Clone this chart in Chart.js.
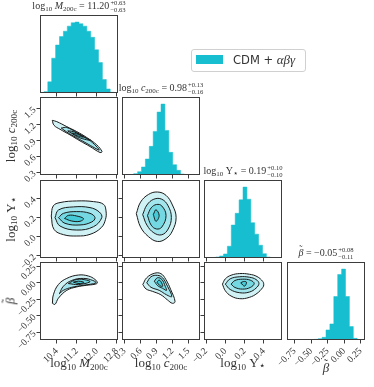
<!DOCTYPE html>
<html><head><meta charset="utf-8">
<script src="https://cdn.jsdelivr.net/npm/chart.js@4.4.1/dist/chart.umd.min.js"></script>
<style>
html,body{margin:0;padding:0;background:#fff;width:374px;height:387px;overflow:hidden;position:relative;
  font-family:'Liberation Serif','DejaVu Serif',serif;color:#333}
canvas{position:absolute}
.tx{position:absolute;white-space:nowrap;text-align:center;line-height:1}
.tt{font-size:10px}
.ax{font-size:13px}
sub{font-size:0.7em;vertical-align:-0.3em;line-height:0}
.ss{display:inline-block;vertical-align:middle;font-size:0.66em;line-height:1.05;text-align:left;margin-left:1px}
.ss span{display:block}
sub.st{font-family:'DejaVu Sans',sans-serif;font-size:0.85em;vertical-align:-0.2em}
.bt{position:relative;display:inline-block;font-style:italic}
.bt .tl{position:absolute;left:0.08em;top:-0.28em;font-style:normal;font-size:0.95em}
.yl{transform:translate(-50%,-50%) rotate(-90deg);}
#legend{position:absolute;left:191px;top:49px;width:113px;height:21px;border:1px solid #d0d0d0;border-radius:3px;background:#fff}
#legend .sw{position:absolute;left:4px;top:4.5px;width:27px;height:9.5px;background:#17becf}
#legend .lt{position:absolute;left:41px;top:2px;font-family:'DejaVu Sans',sans-serif;font-size:11.5px;color:#333;white-space:nowrap}
#legend .lt i{font-family:'Liberation Serif','DejaVu Serif',serif;font-size:13px}
</style></head><body>
<script>
// ---------------- data ----------------
const paramLabels = ['log<sub>10</sub> <i>M</i><sub>200c</sub>', 'log<sub>10</sub> <i>c</i><sub>200c</sub>',
  'log<sub>10</sub> Υ<sub class="st">⋆</sub>', '<span class="bt">β<span class="tl">˜</span></span>'];
const medians = ['11.20', '0.98', '0.19', '−0.05'];
const errPlus = ['+0.63', '+0.13', '+0.10', '+0.08'];
const errMinus = ['−0.63', '−0.16', '−0.10', '−0.11'];

const rangeM = [9.73, 12.85];
const rangeC = [0.25, 1.72];
const rangeU = [-0.222, 0.59];
const rangeB = [-0.865, 0.315];

const ticksM = [10.4, 11.2, 12.0, 12.8];
const ticksC = [0.3, 0.6, 0.9, 1.2, 1.5];
const ticksU = [-0.2, 0.0, 0.2, 0.4];
const ticksB = [-0.75, -0.50, -0.25, 0.00, 0.25];
const tickLabelsM = ['10.4', '11.2', '12.0', '12.8'];
const tickLabelsC = ['0.3', '0.6', '0.9', '1.2', '1.5'];
const tickLabelsU = ['−0.2', '0.0', '0.2', '0.4'];
const tickLabelsB = ['−0.75', '−0.50', '−0.25', '0.00', '0.25'];

// histogram counts, 20 equal bins across each range
const histM = [0, 4, 33, 103, 142, 167, 183, 198, 208, 210, 205, 198, 183, 165, 128, 90, 40, 12, 2, 0];
const histC = [0, 0, 0, 4, 10, 24, 48, 86, 131, 189, 213, 134, 68, 31, 14, 3, 0, 0, 0, 0];
const histU = [0, 0, 1, 3, 6, 12, 35, 98, 133, 173, 211, 175, 105, 71, 38, 13, 3, 0, 0, 0];
const histB = [0, 0, 0, 0, 0, 0, 0, 2, 4, 8, 30, 48, 130, 196, 212, 130, 40, 5, 0, 0];

// contour rings (outer -> inner), [x, y] in data units
const contourCM = [
  [[10.22,1.28],[10.40,1.256],[10.80,1.162],[11.20,1.068],[11.60,0.956],[12.00,0.818],[12.21,0.69],[12.13,0.674],[11.73,0.787],[11.33,0.893],[10.93,1.006],[10.53,1.112],[10.29,1.187],[10.22,1.28]],
  [[10.58,1.135],[10.80,1.145],[11.20,1.05],[11.60,0.94],[11.90,0.83],[12.10,0.72],[11.90,0.765],[11.60,0.845],[11.20,0.95],[10.80,1.06],[10.58,1.135]],
  [[10.84,1.08],[11.00,1.075],[11.20,1.04],[11.50,0.96],[11.76,0.905],[11.50,0.925],[11.20,0.975],[11.00,1.035],[10.84,1.08]],
  [[11.00,1.04],[11.22,1.02],[11.46,0.965],[11.22,0.99],[11.00,1.04]]
];
const contourUM = [
  [[10.18,0.215],[10.26,0.32],[10.53,0.355],[11.20,0.372],[11.87,0.365],[12.27,0.337],[12.37,0.268],[12.35,0.18],[12.18,0.094],[11.73,0.024],[11.20,0.007],[10.67,0.021],[10.29,0.076],[10.18,0.215]],
  [[10.33,0.198],[10.47,0.278],[11.07,0.31],[11.73,0.3025],[12.10,0.257],[12.20,0.198],[11.87,0.104],[11.20,0.069],[10.53,0.111],[10.33,0.198]],
  [[10.47,0.198],[10.67,0.243],[11.20,0.261],[11.73,0.243],[11.93,0.198],[11.80,0.153],[11.33,0.122],[10.73,0.139],[10.47,0.198]],
  [[10.71,0.19],[10.87,0.222],[11.20,0.215],[11.47,0.188],[11.33,0.16],[11.00,0.163],[10.71,0.19]]
];
const contourUC = [
  [[0.52,0.24],[0.60,0.36],[0.75,0.44],[0.92,0.465],[1.08,0.43],[1.20,0.33],[1.27,0.20],[1.20,0.06],[1.08,-0.02],[0.92,-0.05],[0.75,0.0],[0.60,0.10],[0.52,0.24]],
  [[0.64,0.23],[0.72,0.33],[0.85,0.39],[1.00,0.39],[1.12,0.32],[1.18,0.20],[1.12,0.08],[1.00,0.02],[0.85,0.04],[0.72,0.12],[0.64,0.23]],
  [[0.73,0.22],[0.80,0.30],[0.90,0.335],[1.00,0.32],[1.08,0.22],[1.00,0.10],[0.90,0.08],[0.80,0.12],[0.73,0.22]],
  [[0.84,0.23],[0.89,0.28],[0.95,0.22],[0.89,0.16],[0.84,0.23]]
];
const contourBM = [
  [[10.225,-0.31],[10.265,-0.181],[10.465,-0.026],[10.80,0.067],[11.265,0.118],[11.665,0.103],[11.93,0.051],[12.025,0.0],[11.93,-0.021],[11.60,-0.037],[11.20,-0.062],[10.80,-0.114],[10.465,-0.233],[10.33,-0.326],[10.225,-0.31]],
  [[10.505,-0.166],[10.665,-0.052],[11.0,0.036],[11.465,0.067],[11.84,0.036],[11.97,0.0],[11.465,-0.037],[11.0,-0.068],[10.665,-0.114],[10.505,-0.166]],
  [[10.865,-0.011],[11.2,0.051],[11.6,0.041],[11.73,0.015],[11.265,-0.026],[10.865,-0.011]],
  [[11.065,0.01],[11.265,0.025],[11.49,0.005],[11.29,-0.011],[11.065,0.01]]
];
const contourBC = [
  [[0.642,-0.026],[0.716,0.077],[0.859,0.144],[0.983,0.139],[1.076,0.051],[1.169,-0.104],[1.25,-0.284],[1.20,-0.31],[1.107,-0.259],[0.983,-0.181],[0.828,-0.13],[0.704,-0.093],[0.642,-0.026]],
  [[0.716,0.0],[0.797,0.092],[0.921,0.113],[1.014,0.077],[1.107,-0.052],[1.188,-0.207],[1.089,-0.181],[0.952,-0.114],[0.797,-0.068],[0.716,0.0]],
  [[0.859,0.025],[0.921,0.077],[1.002,0.051],[1.064,-0.052],[1.089,-0.114],[1.014,-0.083],[0.921,-0.042],[0.859,0.025]],
  [[0.908,0.01],[0.952,0.041],[0.996,0.0],[1.014,-0.052],[0.964,-0.042],[0.908,0.01]]
];
const contourBU = [
  [[-0.03,-0.02],[0.0,0.06],[0.06,0.115],[0.15,0.14],[0.25,0.13],[0.33,0.095],[0.39,0.02],[0.40,-0.03],[0.39,-0.07],[0.33,-0.16],[0.25,-0.22],[0.15,-0.24],[0.06,-0.2],[0.0,-0.12],[-0.03,-0.02]],
  [[0.0,-0.02],[0.05,0.06],[0.15,0.092],[0.25,0.085],[0.32,0.05],[0.35,-0.01],[0.32,-0.08],[0.25,-0.14],[0.15,-0.15],[0.05,-0.1],[0.0,-0.02]],
  [[0.06,-0.02],[0.10,0.035],[0.18,0.055],[0.26,0.04],[0.30,-0.01],[0.26,-0.07],[0.18,-0.095],[0.10,-0.07],[0.06,-0.02]],
  [[0.16,0.0],[0.19,0.02],[0.22,0.01],[0.20,-0.05],[0.16,0.0]]
];

// ---------------- layout / style ----------------
const HIST_COLOR = '#17becf';
const LEVEL_COLORS = ['#d1f2f5', '#a2e5ec', '#74d8e2', '#45cbd8'];
const LINE_COLOR = '#1a1a1a';
const FRAME_COLOR = '#3c3c3c';
const SERIF = "'Liberation Serif','DejaVu Serif',serif";
const COL = [40, 122, 204, 287], ROW = [15, 97, 180, 262], W = 78, H = 78;
const PL = 44, PR = 14, PT = 14, PB = 50;

const params = [
  {range: rangeM, ticks: ticksM, labels: tickLabelsM, hist: histM},
  {range: rangeC, ticks: ticksC, labels: tickLabelsC, hist: histC},
  {range: rangeU, ticks: ticksU, labels: tickLabelsU, hist: histU},
  {range: rangeB, ticks: ticksB, labels: tickLabelsB, hist: histB}
];
const contours = {'1,0': contourCM, '2,0': contourUM, '2,1': contourUC, '3,0': contourBM, '3,1': contourBC, '3,2': contourBU};

const framePlugin = {id: 'frame', afterDatasetsDraw(chart) {
  const a = chart.chartArea, ctx = chart.ctx;
  ctx.save(); ctx.strokeStyle = FRAME_COLOR; ctx.lineWidth = 1;
  ctx.strokeRect(Math.round(a.left) + 0.5, Math.round(a.top) + 0.5, Math.round(a.right - a.left) - 1, Math.round(a.bottom - a.top) - 1);
  ctx.restore();
}};

function makeCanvas(r, c) {
  const cv = document.createElement('canvas');
  cv.width = PL + W + PR; cv.height = PT + H + PB;
  cv.style.left = (COL[c] - PL) + 'px'; cv.style.top = (ROW[r] - PT) + 'px';
  cv.style.width = cv.width + 'px'; cv.style.height = cv.height + 'px';
  document.body.appendChild(cv);
  return cv;
}

function axis(p, showLabels, horizontal) {
  return {
    type: 'linear', min: p.range[0], max: p.range[1], offset: false,
    afterBuildTicks(s) { s.ticks = p.ticks.map(v => ({value: v})); },
    afterFit(s) { if (horizontal) s.height = PB; else s.width = PL; },
    grid: {display: true, drawOnChartArea: false, drawTicks: true, tickLength: 3.5, color: FRAME_COLOR, lineWidth: 1, offset: false},
    border: {display: false},
    ticks: {display: showLabels, autoSkip: false, minRotation: 45, maxRotation: 45, padding: 2,
      font: {family: SERIF, size: 9.5}, color: '#333', callback: (v, i) => p.labels[i]}
  };
}

const baseOptions = () => ({
  responsive: false, animation: false, devicePixelRatio: 1, events: [],
  plugins: {legend: {display: false}, tooltip: {enabled: false}, filler: {drawTime: 'beforeDatasetsDraw'}}
});

for (let r = 0; r < 4; r++) {
  for (let c = 0; c <= r; c++) {
    const cv = makeCanvas(r, c);
    const px = params[c], py = params[r];
    if (r === c) {
      // step-filled histogram (matplotlib "stepfilled"): one point per bin centre
      const bw = (px.range[1] - px.range[0]) / px.hist.length;
      const opts = baseOptions();
      opts.layout = {padding: {left: PL, right: PR, top: PT, bottom: 0}};
      opts.scales = {x: axis(px, r === 3, true), y: {display: false, min: 0, max: Math.max(...px.hist) * 1.1}};
      new Chart(cv, {type: 'scatter', data: {datasets: [{
        data: px.hist.map((v, i) => ({x: px.range[0] + (i + 0.5) * bw, y: v})),
        showLine: true, stepped: 'middle', fill: 'origin', pointRadius: 0,
        backgroundColor: HIST_COLOR, borderColor: HIST_COLOR, borderWidth: 0.5
      }]}, options: opts, plugins: [framePlugin]});
    } else {
      const rings = contours[r + ',' + c];
      const ds = [];
      for (let k = rings.length - 1; k >= 0; k--) {
        ds.push({data: rings[k].map(([x, y]) => ({x, y})), showLine: true, fill: 'shape',
          backgroundColor: LEVEL_COLORS[k], borderColor: LINE_COLOR, borderWidth: 1, pointRadius: 0, tension: 0.4});
      }
      const opts = baseOptions();
      opts.layout = {padding: {left: 0, right: PR, top: PT, bottom: 0}};
      opts.scales = {x: axis(px, r === 3, true), y: axis(py, c === 0, false)};
      new Chart(cv, {type: 'scatter', data: {datasets: ds}, options: opts, plugins: [framePlugin]});
    }
  }
}

// ---------------- texts ----------------
function addText(html, cls, css) {
  const d = document.createElement('div');
  d.className = 'tx ' + cls; d.innerHTML = html;
  Object.assign(d.style, css);
  document.body.appendChild(d);
}
for (let i = 0; i < 4; i++) {
  addText(paramLabels[i] + ' = ' + medians[i] + '<span class="ss"><span>' + errPlus[i] + '</span><span>' + errMinus[i] + '</span></span>',
    'tt', {left: (COL[i] - 20) + 'px', width: (W + 40) + 'px', top: (ROW[i] - 15) + 'px'});
  addText(paramLabels[i], 'ax', {left: (COL[i] - 20) + 'px', width: (W + 40) + 'px', top: (i === 3 ? 361 : 356) + 'px'});
  if (i > 0) {
    addText(paramLabels[i], 'ax yl', {left: '10px', top: (ROW[i] + H / 2) + 'px'});
  }
}
const lg = document.createElement('div');
lg.id = 'legend';
lg.innerHTML = '<div class="sw"></div><div class="lt">CDM + <i>αβγ</i></div>';
document.body.appendChild(lg);
</script>
</body></html>
